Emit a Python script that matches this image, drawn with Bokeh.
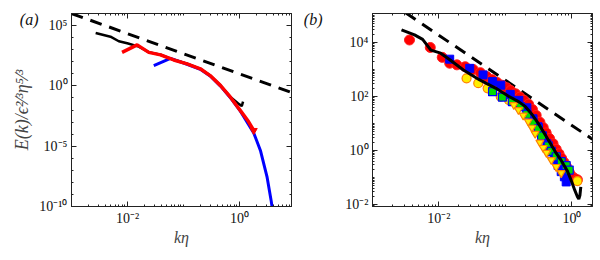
from bokeh.plotting import figure
from bokeh.layouts import row
from bokeh.models import LogAxis, FixedTicker, CustomJSTickFormatter, Range1d
from bokeh.embed import file_html
from bokeh.resources import INLINE

# ---------------- panel (a) data ----------------
a_ref_k = [1.0e-3, 8.5]
a_ref_E = [1.0e6, 0.28]

a_black_k = [2.7e-3, 4.97e-3, 7.0e-3, 9.9e-3, 0.0159, 0.024, 0.039, 0.067, 0.116,
             0.2, 0.30, 0.46, 0.69, 0.95, 1.10, 1.16]
a_black_E = [2.45e4, 1.2e4, 5.0e3, 3.4e3, 1.8e3, 630, 380, 145, 68,
             26, 7.2, 1.07, 0.12, 0.035, 0.021, 0.05]

a_red_k = [8.0e-3, 0.0149, 0.024, 0.039, 0.067, 0.116, 0.2, 0.30, 0.46, 0.69, 1.04, 1.45, 1.80]
a_red_E = [600, 2500, 600, 370, 140, 66, 26, 7.1, 1.05, 0.115, 8.9e-3, 1.1e-3, 2.0e-4]

a_blue_k = [0.0295, 0.0586, 0.116, 0.2, 0.30, 0.46, 0.69, 1.04, 1.80, 2.37, 3.12, 3.68, 4.1]
a_blue_E = [48, 190, 62, 24, 6.6, 0.95, 0.105, 7.9e-3, 1.26e-4, 4.4e-6, 2.7e-8, 3.2e-10, 1e-11]

# ---------------- panel (b) data ----------------
b_ref_k = [1.0e-3, 2.04]
b_ref_E = [8.5e5, 2.6]

b_black_k = [2.73e-3, 4.29e-3, 5.68e-3, 7.55e-3, 0.0106, 0.0149, 0.0233, 0.041, 0.072, 0.113,
             0.16, 0.2, 0.25, 0.313, 0.44, 0.58, 0.69, 0.85, 0.97, 1.1, 1.21, 1.27, 1.32, 1.36]
b_black_E = [2.9e4, 1.9e4, 1.3e4, 5.2e3, 4.0e3, 2.2e3, 950, 410, 200, 100,
             63, 42, 22, 10, 2.5, 0.8, 0.43, 0.18, 0.081, 0.035, 0.0195, 0.016, 0.022, 0.045]

b_red_k = [3.6e-3, 7.4e-3, 0.0112, 0.0145, 0.0186, 0.0248, 0.0327, 0.042, 0.052, 0.063, 0.075,
           0.09, 0.105, 0.12, 0.142, 0.165, 0.19, 0.223, 0.255, 0.29, 0.33, 0.37, 0.41, 0.46,
           0.52, 0.58, 0.64, 0.70, 0.76, 0.83, 0.91, 1.0, 1.1, 1.21]
b_red_E = [1.23e4, 6.5e3, 2.8e3, 1.7e3, 1.48e3, 1.26e3, 1.0e3, 760, 550, 420, 330,
           260, 210, 166, 126, 95, 72, 52, 33, 20, 11.2, 7.1, 4.5, 2.8,
           1.8, 1.12, 0.76, 0.52, 0.37, 0.25, 0.16, 0.112, 0.093, 0.083]

b_yel_k = [0.026, 0.039, 0.054, 0.085, 0.113, 1.21]
b_yel_E = [470, 310, 200, 98, 74, 0.074]

b_blue_k = [0.0145, 0.029, 0.046, 0.064, 0.085, 0.118, 0.159, 0.21, 0.26, 0.31, 0.36, 0.42,
            0.48, 0.55, 0.62, 0.69, 0.77, 0.82]
b_blue_E = [2.4e3, 1.1e3, 630, 355, 263, 120, 72, 38, 15, 7.6, 3.5, 1.8,
            0.89, 0.48, 0.28, 0.166, 0.107, 0.069]

b_green_k = [0.064, 0.09, 0.127, 0.168, 0.21, 0.26, 0.313, 0.35, 0.44, 0.49, 0.58, 0.69, 0.82, 0.91]
b_green_E = [150, 95, 65, 42, 22, 10.5, 6.3, 3.5, 1.5, 0.93, 0.59, 0.39, 0.275, 0.19]

b_tri_k = [0.134, 0.157, 0.185, 0.22, 0.25, 0.28, 0.33, 0.37, 0.415, 0.49, 0.58, 0.69]
b_tri_E = [49, 32, 20, 12, 7.1, 4.2, 2.0, 1.26, 0.83, 0.45, 0.25, 0.148]

# ---------------- ticks / labels ----------------
x_major = [1e-2, 1.0]
x_minor = [m * 10.0 ** n for n in range(-3, 1) for m in range(1, 10)] + [10.0]
a_y_major = [1e-10, 1e-5, 1.0, 1e5]
a_y_minor = [10.0 ** n for n in range(-10, 7)]
b_y_major = [1e-2, 1.0, 1e2, 1e4]
b_y_minor = [m * 10.0 ** n for n in range(-3, 6) for m in range(1, 10)]
panel_tags = ["(a)", "(b)"]
tag_y = [10 ** 5.5, 10 ** 4.85]

FONT = "Liberation Serif"

sup_fmt = CustomJSTickFormatter(code="""
const sup = {"-":"\u207b","0":"\u2070","1":"\u00b9","2":"\u00b2","3":"\u00b3","4":"\u2074",
             "5":"\u2075","6":"\u2076","7":"\u2077","8":"\u2078","9":"\u2079"};
const e = Math.round(Math.log10(tick));
return "10" + String(e).split("").map(c => sup[c]).join("");
""")
blank_fmt = CustomJSTickFormatter(code="return '';")


def style_axis(ax, labels=True):
    ax.major_tick_in = 5
    ax.major_tick_out = 0
    ax.minor_tick_in = 2
    ax.minor_tick_out = 0
    ax.axis_line_color = "#222222"
    ax.major_tick_line_color = "#222222"
    ax.minor_tick_line_color = "#222222"
    if labels:
        ax.major_label_text_font = FONT
        ax.major_label_text_font_size = "14px"
        ax.major_label_text_color = "#111111"
        ax.major_label_standoff = 4
    else:
        ax.major_label_text_font_size = "0px"
        ax.major_label_standoff = 0


def make_fig(width, x_rng, y_rng, y_major, y_minor, bl, br, tag, ty, tag_standoff):
    p = figure(width=width, height=260, x_axis_type="log", y_axis_type="log",
               x_range=x_rng, y_range=y_rng,
               min_border_left=bl, min_border_right=br, min_border_top=13, min_border_bottom=54,
               toolbar_location=None, output_backend="svg")
    p.xgrid.visible = False
    p.ygrid.visible = False
    p.outline_line_color = "#222222"
    p.xaxis.ticker = FixedTicker(ticks=x_major, minor_ticks=x_minor)
    p.yaxis.ticker = FixedTicker(ticks=y_major, minor_ticks=y_minor)
    p.xaxis.formatter = sup_fmt
    p.yaxis.formatter = sup_fmt
    style_axis(p.xaxis[0])
    style_axis(p.yaxis[0])
    p.xaxis.axis_label = "k\u03b7"
    p.xaxis.axis_label_text_font = FONT
    p.xaxis.axis_label_text_font_style = "italic"
    p.xaxis.axis_label_text_font_size = "16px"
    p.xaxis.axis_label_standoff = 0
    top = LogAxis(ticker=FixedTicker(ticks=x_major, minor_ticks=x_minor), formatter=blank_fmt)
    right = LogAxis(ticker=FixedTicker(ticks=y_major, minor_ticks=y_minor), formatter=blank_fmt)
    style_axis(top, labels=False)
    style_axis(right, labels=False)
    p.add_layout(top, "above")
    p.add_layout(right, "right")
    # panel tag "(a)" / "(b)" drawn as the label of an invisible extra left axis
    tag_axis = LogAxis(ticker=FixedTicker(ticks=[ty], minor_ticks=[]),
                       formatter=CustomJSTickFormatter(code="return %r;" % tag))
    tag_axis.axis_line_color = None
    tag_axis.major_tick_line_color = None
    tag_axis.minor_tick_line_color = None
    tag_axis.major_tick_out = 0
    tag_axis.major_tick_in = 0
    tag_axis.major_label_text_font = FONT
    tag_axis.major_label_text_font_style = "italic"
    tag_axis.major_label_text_font_size = "16px"
    tag_axis.major_label_text_color = "#111111"
    tag_axis.major_label_standoff = tag_standoff
    p.add_layout(tag_axis, "left")
    return p


# ---------------- panel (a) ----------------
pa = make_fig(300, Range1d(1e-3, 10 ** 0.93), Range1d(1e-10, 1e6), a_y_major, a_y_minor, 71, 9,
              panel_tags[0], tag_y[0], -29)
pa.yaxis[0].axis_label = "E(k)/\u03f5\u00b2\u2044\u00b3\u03b7\u2075\u2044\u00b3"
pa.yaxis[0].axis_label_text_font = FONT
pa.yaxis[0].axis_label_text_font_style = "italic"
pa.yaxis[0].axis_label_text_font_size = "18px"
pa.yaxis[0].axis_label_standoff = 4

pa.line(a_ref_k, a_ref_E, line_color="black", line_width=3, line_dash="12 8")
pa.line(a_black_k, a_black_E, line_color="black", line_width=2.5)
pa.line(a_blue_k, a_blue_E, line_color="#0000ff", line_width=3)
pa.line(a_red_k, a_red_E, line_color="#ff0000", line_width=3.5)
pa.scatter(a_red_k[-1:], a_red_E[-1:], marker="inverted_triangle", size=7,
           fill_color="#ff0000", line_color="#ff0000")

# ---------------- panel (b) ----------------
pb = make_fig(300, Range1d(1e-3, 2.04), Range1d(10 ** -2.07, 10 ** 5.07), b_y_major, b_y_minor, 66, 8,
              panel_tags[1], tag_y[1], 20)

pb.line(b_ref_k, b_ref_E, line_color="black", line_width=3, line_dash="12 8")
pb.scatter(b_red_k, b_red_E, marker="circle", size=10, fill_color="#ff0000", line_color="#ff2020")
pb.scatter(b_yel_k, b_yel_E, marker="circle", size=9, fill_color="#ffee00", line_color="#ff8000",
           line_width=1.2)
pb.scatter(b_blue_k, b_blue_E, marker="square", size=8, fill_color="#0000ff", line_color="#0000ff")
pb.scatter(b_green_k, b_green_E, marker="square", size=8, fill_color="#00dd00", line_color="#0000ff",
           line_width=1.2)
pb.scatter(b_tri_k, b_tri_E, marker="inverted_triangle", size=8, fill_color="#ffee00",
           line_color="#ff8000", line_width=1.2)
pb.line(b_black_k, b_black_E, line_color="black", line_width=3)

layout = row(pa, pb)
open("out.html", "w").write(file_html(layout, INLINE))
